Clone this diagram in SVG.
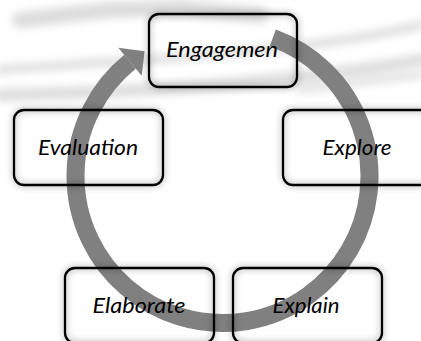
<svg xmlns="http://www.w3.org/2000/svg" width="421" height="341" viewBox="0 0 421 341">
  <defs>
    <style>
      .box { fill: none; stroke: #000; stroke-width: 2.3; filter: url(#glow); }
      .lbl { font-family: Lato, "Open Sans", "Liberation Sans", sans-serif; font-style: italic; font-size: 21px; fill: #000; text-anchor: middle; }
      .arc { fill: none; stroke: #808080; stroke-width: 18; stroke-linecap: butt; }
      .wm { fill: none; stroke: #d6d6d6; stroke-linecap: round; }
    </style>
    <filter id="glow" x="-20%" y="-30%" width="140%" height="160%">
      <feGaussianBlur in="SourceAlpha" stdDeviation="3.5" result="b"/>
      <feComponentTransfer in="b" result="s">
        <feFuncA type="linear" slope="0.45"/>
      </feComponentTransfer>
      <feMerge>
        <feMergeNode in="s"/>
        <feMergeNode in="SourceGraphic"/>
      </feMerge>
    </filter>
    <filter id="wmblur" x="-10%" y="-50%" width="120%" height="200%">
      <feGaussianBlur stdDeviation="4"/>
    </filter>
  </defs>

  <rect x="0" y="0" width="421" height="341" fill="#fff"/>

  <g id="watermark" filter="url(#wmblur)" opacity="0.85">
    <path class="wm" d="M0 70 C120 60 300 55 421 25" stroke-width="8"/>
    <path class="wm" d="M0 95 C140 92 300 82 421 60" stroke-width="12"/>
    <path class="wm" d="M20 20 L110 10 L180 8 L260 15" stroke-width="16"/>
    <path class="wm" d="M300 90 C340 85 380 80 421 75" stroke-width="6"/>
  </g>

  <g id="connectors">
    <path class="arc" d="M272.8 37.9 A147 147 0 1 1 130.0 61.8"/>
    <polygon points="118.3,47.8 144.6,51.3 141.7,75.8" fill="#808080"/>
  </g>

  <g id="engagement">
    <rect class="box" x="149" y="14" width="148" height="73" rx="10"/>
    <text class="lbl" x="222" y="57" textLength="112" lengthAdjust="spacingAndGlyphs">Engagemen</text>
  </g>
  <g id="evaluation">
    <rect class="box" x="14" y="110" width="149" height="75" rx="10"/>
    <text class="lbl" x="88" y="155" textLength="100" lengthAdjust="spacingAndGlyphs">Evaluation</text>
  </g>
  <g id="explore">
    <rect class="box" x="283" y="110" width="149" height="75" rx="10"/>
    <text class="lbl" x="357" y="155" textLength="69" lengthAdjust="spacingAndGlyphs">Explore</text>
  </g>
  <g id="elaborate">
    <rect class="box" x="65" y="268" width="149" height="75" rx="10"/>
    <text class="lbl" x="139" y="313" textLength="93" lengthAdjust="spacingAndGlyphs">Elaborate</text>
  </g>
  <g id="explain">
    <rect class="box" x="233" y="268" width="149" height="75" rx="10"/>
    <text class="lbl" x="306" y="313" textLength="67" lengthAdjust="spacingAndGlyphs">Explain</text>
  </g>
</svg>
